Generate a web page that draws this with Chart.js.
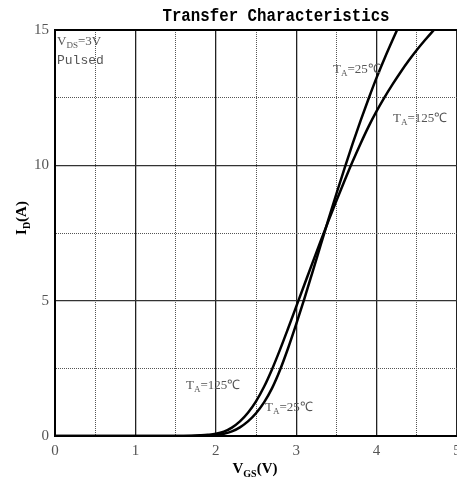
<!DOCTYPE html>
<html>
<head>
<meta charset="utf-8">
<script src="https://cdn.jsdelivr.net/npm/chart.js@4"></script>
<style>
  html, body { margin: 0; padding: 0; background: #fff; }
  #wrap { width: 457px; height: 485px; }
</style>
</head>
<body>
<div id="wrap"><canvas id="chart" width="457" height="485"></canvas></div>
<script>
// Transfer characteristics
const vgs25 = [0, 1.7, 1.8, 1.9, 2.0, 2.1, 2.2, 2.3, 2.4, 2.5, 2.6, 2.7, 2.8, 2.9, 3.0, 3.1, 3.2, 3.3, 3.4, 3.5, 3.6, 3.7, 3.8, 3.9, 4.0, 4.1, 4.2, 4.3];
const id25  = [0, 0, 0.003, 0.012, 0.03, 0.08, 0.17, 0.32, 0.54, 0.84, 1.24, 1.77, 2.45, 3.25, 4.13, 5.06, 6.03, 7.01, 7.99, 8.95, 9.88, 10.78, 11.64, 12.46, 13.24, 13.96, 14.64, 15.3];

const vgs125 = [0, 1.5, 1.6, 1.7, 1.8, 1.9, 2.0, 2.1, 2.2, 2.3, 2.4, 2.5, 2.6, 2.7, 2.8, 2.9, 3.0, 3.1, 3.2, 3.3, 3.4, 3.5, 3.6, 3.7, 3.8, 3.9, 4.0, 4.1, 4.2, 4.3, 4.4, 4.5, 4.6, 4.7, 4.8];
const id125  = [0, 0, 0.003, 0.01, 0.025, 0.045, 0.08, 0.16, 0.31, 0.54, 0.86, 1.28, 1.82, 2.47, 3.2, 3.98, 4.78, 5.58, 6.38, 7.17, 7.94, 8.69, 9.42, 10.13, 10.8, 11.43, 12.0, 12.52, 13.0, 13.45, 13.87, 14.26, 14.62, 14.96, 15.28];

const xTicks = [0, 1, 2, 3, 4, 5];
const yTicks = [0, 5, 10, 15];

function toPoints(xs, ys) {
  return xs.map((x, i) => ({ x: x, y: ys[i] }));
}

// draws a run of text pieces, some of them subscript
function drawParts(ctx, parts, x, y, size, family, weight, align) {
  const subSize = Math.round(size * 0.68);
  let widths = parts.map(p => {
    ctx.font = weight + ' ' + (p[1] ? subSize : size) + 'px ' + family;
    return ctx.measureText(p[0]).width;
  });
  const total = widths.reduce((a, b) => a + b, 0);
  let cx = align === 'center' ? x - total / 2 : x;
  ctx.textAlign = 'left';
  ctx.textBaseline = 'alphabetic';
  parts.forEach((p, i) => {
    ctx.font = weight + ' ' + (p[1] ? subSize : size) + 'px ' + family;
    ctx.fillText(p[0], cx, p[1] ? y + size * 0.25 : y);
    cx += widths[i];
  });
}

const textPlugin = {
  id: 'texts',
  afterDraw(chart) {
    const ctx = chart.ctx;
    ctx.save();
    // title, a tall narrow mono face like the datasheet's
    ctx.fillStyle = '#000';
    ctx.save();
    ctx.translate(276, 16);
    ctx.scale(0.83, 1);
    ctx.font = 'bold 19px "Liberation Mono"';
    ctx.textAlign = 'center';
    ctx.textBaseline = 'middle';
    ctx.fillText('Transfer Characteristics', 0, 0);
    ctx.restore();

    // axis titles
    const serif = '"Liberation Serif"';
    drawParts(ctx, [['V', false], ['GS', true], ['(V)', false]], 255, 473, 15, serif, 'bold', 'center');
    ctx.save();
    ctx.translate(26, 218);
    ctx.rotate(-Math.PI / 2);
    drawParts(ctx, [['I', false], ['D', true], ['(A)', false]], 0, 0, 15, serif, 'bold', 'center');
    ctx.restore();

    // annotations
    ctx.fillStyle = '#555';
    drawParts(ctx, [['V', false], ['DS', true], ['=3V', false]], 57, 45, 13, serif, 'normal', 'left');
    ctx.font = '13px "Liberation Mono"';
    ctx.textAlign = 'left';
    ctx.fillText('Pulsed', 57, 64);
    drawParts(ctx, [['T', false], ['A', true], ['=25\u2103', false]], 333, 73, 13, serif, 'normal', 'left');
    drawParts(ctx, [['T', false], ['A', true], ['=125\u2103', false]], 393, 122, 13, serif, 'normal', 'left');
    drawParts(ctx, [['T', false], ['A', true], ['=125\u2103', false]], 186, 389, 13, serif, 'normal', 'left');
    drawParts(ctx, [['T', false], ['A', true], ['=25\u2103', false]], 265, 411, 13, serif, 'normal', 'left');
    ctx.restore();
  }
};

const isMajor = (v, step) => Math.abs(v / step - Math.round(v / step)) < 1e-6;

new Chart(document.getElementById('chart'), {
  type: 'scatter',
  data: {
    datasets: [
      {
        label: 'TA=25',
        data: toPoints(vgs25, id25),
        showLine: true,
        borderColor: '#000',
        borderWidth: 2.5,
        pointRadius: 0,
        cubicInterpolationMode: 'monotone'
      },
      {
        label: 'TA=125',
        data: toPoints(vgs125, id125),
        showLine: true,
        borderColor: '#000',
        borderWidth: 2.5,
        pointRadius: 0,
        cubicInterpolationMode: 'monotone'
      }
    ]
  },
  options: {
    responsive: false,
    animation: false,
    layout: { padding: { top: 30, right: 0, left: 0, bottom: 0 } },
    plugins: {
      legend: { display: false },
      tooltip: { enabled: false },
      title: { display: false }
    },
    scales: {
      x: {
        type: 'linear',
        min: 0,
        max: 5,
        ticks: {
          stepSize: 0.5,
          padding: 6,
          color: '#555',
          font: { family: '"Liberation Serif"', size: 15 },
          callback: v => (xTicks.includes(v) ? String(v) : '')
        },
        grid: {
          drawTicks: false,
          color: c => (isMajor(c.tick.value, 1) ? '#222' : '#555'),
          lineWidth: c => (isMajor(c.tick.value, 1) ? 1.3 : 1)
        },
        border: {
          color: '#000',
          width: 2,
          dash: c => (c.tick && !isMajor(c.tick.value, 1) ? [1, 1] : [])
        },
        afterFit(scale) {
          scale.height = 49;
          scale.paddingLeft = 0;
          scale.paddingRight = 0;
        }
      },
      y: {
        type: 'linear',
        min: 0,
        max: 15,
        ticks: {
          stepSize: 2.5,
          padding: 6,
          color: '#555',
          font: { family: '"Liberation Serif"', size: 15 },
          callback: v => (yTicks.includes(v) ? String(v) : '')
        },
        grid: {
          drawTicks: false,
          color: c => (c.tick.value === 15 ? '#000' : isMajor(c.tick.value, 5) ? '#333' : '#555'),
          lineWidth: c => (c.tick.value === 15 ? 2 : isMajor(c.tick.value, 5) ? 1.3 : 1)
        },
        border: {
          color: '#000',
          width: 2,
          dash: c => (c.tick && !isMajor(c.tick.value, 5) ? [1, 1] : [])
        },
        afterFit(scale) {
          scale.width = 55;
          scale.paddingTop = 0;
          scale.paddingBottom = 0;
        }
      }
    }
  },
  plugins: [textPlugin]
});
</script>
</body>
</html>
